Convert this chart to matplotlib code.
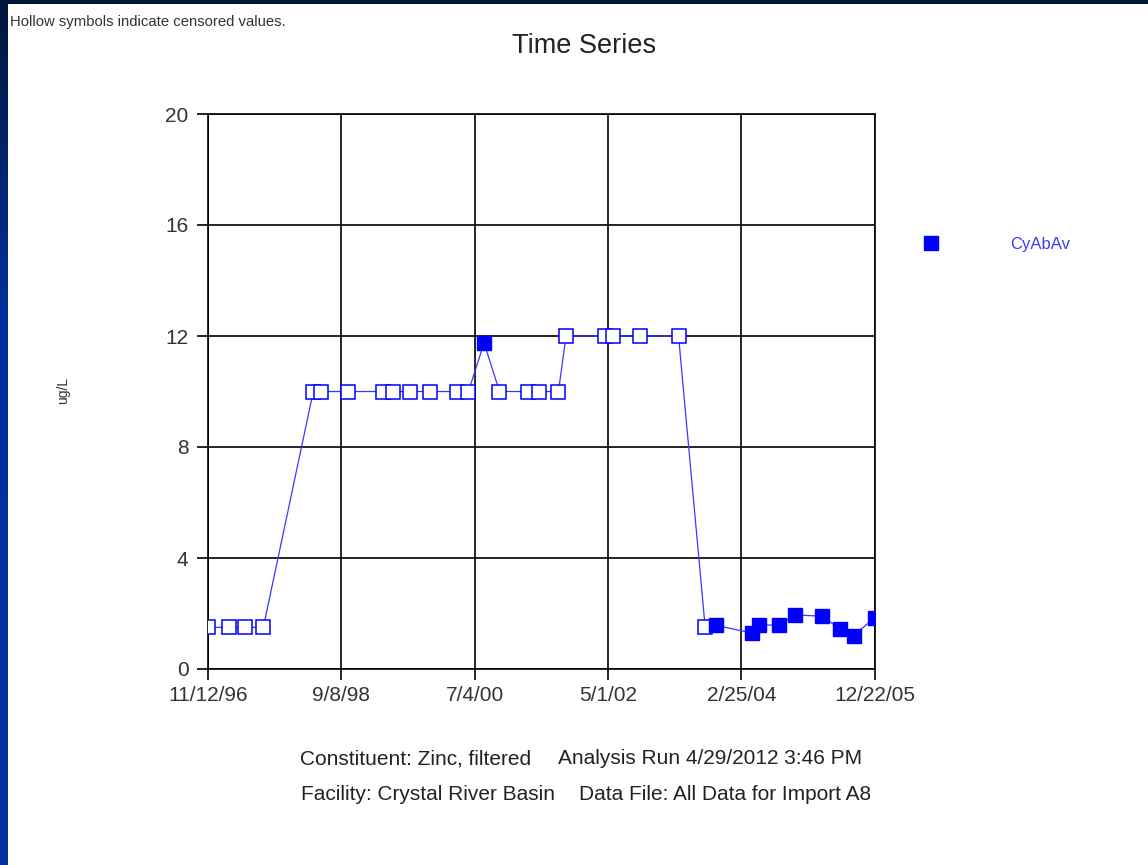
import datetime as dt

import matplotlib
matplotlib.use("Agg")
import matplotlib.pyplot as plt
import matplotlib.dates as mdates
import numpy as np
from matplotlib.colors import LinearSegmentedColormap

plt.rcParams["font.family"] = ["Liberation Sans", "DejaVu Sans"]

# sample dates, values in ug/L, censored flag
DATES = [
    "1996-11-12", "1997-02-26", "1997-05-16", "1997-08-15",
    "1998-04-21", "1998-05-28", "1998-10-13", "1999-04-03",
    "1999-05-23", "1999-08-17", "1999-11-25", "2000-04-09",
    "2000-06-03", "2000-08-20", "2000-11-05", "2001-03-29",
    "2001-05-23", "2001-08-26", "2001-10-03", "2002-04-16",
    "2002-05-23", "2002-10-08", "2003-04-17", "2003-08-28",
    "2003-10-22", "2004-04-15", "2004-05-23", "2004-08-30",
    "2004-11-16", "2005-04-04", "2005-06-28", "2005-09-06",
    "2005-12-20",
]
VALUES = [
    1.5, 1.5, 1.5, 1.5,
    10, 10, 10, 10,
    10, 10, 10, 10,
    10, 11.75, 10, 10,
    10, 10, 12, 12,
    12, 12, 12, 1.5,
    1.57, 1.3, 1.6, 1.57,
    1.95, 1.9, 1.45, 1.2,
    1.85,
]
CENSORED = [
    True, True, True, True,
    True, True, True, True,
    True, True, True, True,
    True, False, True, True,
    True, True, True, True,
    True, True, True, True,
    False, False, False, False,
    False, False, False, False,
    False,
]
TICK_DATES = ["1996-11-12", "1998-09-08", "2000-07-04",
              "2002-05-01", "2004-02-25", "2005-12-22"]
TICK_LABELS = ["11/12/96", "9/8/98", "7/4/00", "5/1/02", "2/25/04", "12/22/05"]
Y_TICKS = [0, 4, 8, 12, 16, 20]

BLUE = "#0000FF"
LINE_BLUE = "#3838FF"
INK = "#333333"

W, H = 1148, 865


def to_date(s):
    return dt.datetime.strptime(s, "%Y-%m-%d")


def main():
    fig = plt.figure(figsize=(W / 100, H / 100), dpi=100, facecolor="white")

    # slide border: dark-to-blue strip on the left, navy strip on top
    cmap = LinearSegmentedColormap.from_list(
        "edge", [(0, "#00163a"), (0.35, "#00309a"), (1, "#0033a0")])
    edge = fig.add_axes([0, 0, 8 / W, 1])
    edge.imshow(np.linspace(0, 1, 256).reshape(-1, 1), aspect="auto",
                cmap=cmap, extent=[0, 1, 1, 0])
    edge.axis("off")
    top = fig.add_axes([0, 1 - 4 / H, 1, 4 / H])
    top.set_facecolor("#00163a")
    top.set_xticks([])
    top.set_yticks([])
    for s in top.spines.values():
        s.set_visible(False)

    ax = fig.add_axes([208 / W, 1 - 669 / H, (875 - 208) / W, (669 - 114) / H])

    x = [to_date(d) for d in DATES]
    y = VALUES
    ax.plot(x, y, color=LINE_BLUE, linewidth=0.9, zorder=3)

    hx = [xi for xi, c in zip(x, CENSORED) if c]
    hy = [yi for yi, c in zip(y, CENSORED) if c]
    fx = [xi for xi, c in zip(x, CENSORED) if not c]
    fy = [yi for yi, c in zip(y, CENSORED) if not c]
    ax.plot(hx, hy, ls="none", marker="s", ms=9.5, mfc="white", mec=BLUE,
            mew=1.1, zorder=4)
    ax.plot(fx, fy, ls="none", marker="s", ms=9.5, mfc=BLUE, mec=BLUE,
            mew=1.0, zorder=4, label="CyAbAv")

    ax.set_xlim(to_date(TICK_DATES[0]), to_date(TICK_DATES[-1]))
    ax.set_ylim(0, 20)
    ax.set_xticks([mdates.date2num(to_date(d)) for d in TICK_DATES])
    ax.set_xticklabels(TICK_LABELS)
    ax.set_yticks(Y_TICKS)
    ax.tick_params(axis="both", direction="out", length=8, width=1.2,
                   colors="black", labelsize=15, labelcolor=INK, pad=4)
    ax.tick_params(axis="y", pad=6)
    ax.grid(True, color="black", linewidth=1.2)
    ax.set_axisbelow(True)
    for s in ax.spines.values():
        s.set_color("black")
        s.set_linewidth(1.2)

    fig.text(63 / W, 1 - 390 / H, "ug/L", rotation=90, fontsize=10,
             color=INK, ha="center", va="center")

    fig.text(584 / W, 1 - 46 / H, "Time Series", fontsize=19.5,
             color="#222222", ha="center", va="center")
    fig.text(10 / W, 1 - 22 / H, "Hollow symbols indicate censored values.",
             fontsize=10.7, color=INK, ha="left", va="center")

    fig.text(300 / W, 1 - 759 / H, "Constituent: Zinc, filtered",
             fontsize=15, color="#222222", ha="left", va="center")
    fig.text(558 / W, 1 - 759 / H, "Analysis Run 4/29/2012 3:46 PM",
             fontsize=15, color="#222222", ha="left", va="center")
    fig.text(301 / W, 1 - 795 / H, "Facility: Crystal River Basin",
             fontsize=15, color="#222222", ha="left", va="center")
    fig.text(579 / W, 1 - 795 / H, "Data File: All Data for Import A8",
             fontsize=15, color="#222222", ha="left", va="center")

    leg = fig.legend(loc="center left", bbox_to_anchor=(923 / W, 1 - 244 / H),
                     frameon=False, fontsize=12, handlelength=1.0,
                     handletextpad=4.2, borderaxespad=0, borderpad=0)
    for t in leg.get_texts():
        t.set_color("#3a3aff")

    fig.savefig("out.png", dpi=100, facecolor="white")


if __name__ == "__main__":
    main()
